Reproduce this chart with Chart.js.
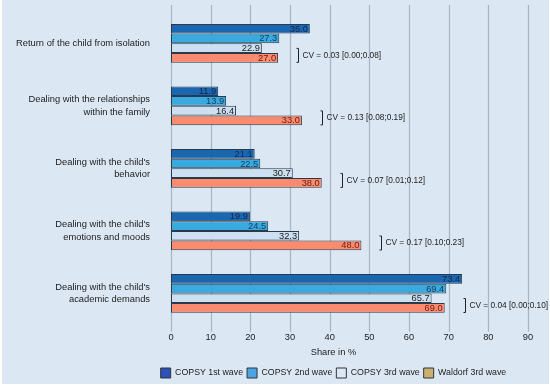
<!DOCTYPE html>
<html>
<head>
<meta charset="utf-8">
<script src="https://cdn.jsdelivr.net/npm/chart.js@4/dist/chart.umd.min.js"></script>
<style>
  html, body { margin: 0; padding: 0; background: #ffffff; }
  #wrap { width: 550px; height: 387px; position: relative; }
</style>
</head>
<body>
<div id="wrap"><canvas id="c" width="550" height="387"></canvas></div>
<script>
const categories = [
  "Return of the child from isolation",
  ["Dealing with the relationships", "within the family"],
  ["Dealing with the child's", "behavior"],
  ["Dealing with the child's", "emotions and moods"],
  ["Dealing with the child's", "academic demands"]
];
const seriesNames = ["COPSY 1st wave", "COPSY 2nd wave", "COPSY 3rd wave", "Waldorf 3rd wave"];
const copsy1 = [35.0, 11.9, 21.1, 19.9, 73.4];
const copsy2 = [27.3, 13.9, 22.5, 24.5, 69.4];
const copsy3 = [22.9, 16.4, 30.7, 32.3, 65.7];
const waldorf = [27.0, 33.0, 38.0, 48.0, 69.0];
const cvLabels = [
  "CV = 0.03 [0.00;0.08]",
  "CV = 0.13 [0.08;0.19]",
  "CV = 0.07 [0.01;0.12]",
  "CV = 0.17 [0.10;0.23]",
  "CV = 0.04 [0.00;0.10]"
];
const xTicks = [0, 10, 20, 30, 40, 50, 60, 70, 80, 90];
const xTitle = "Share in %";

const FONT = "'Liberation Sans', Arial, sans-serif";
const barColors = ["#1a67b1", "#38aadf", "#cde0f2", "#fb8b6e"];
const legendColors = ["#2b52b8", "#4ba4e3", "#dbe7f5", "#c9b26f"];
const labelColors = ["#14284f", "#163a5c", "#222222", "#6b1a0e"];
const seriesData = [copsy1, copsy2, copsy3, waldorf];

const bgPlugin = {
  id: "bg",
  beforeDraw(chart) {
    const ctx = chart.ctx;
    ctx.save();
    ctx.fillStyle = "#ffffff";
    ctx.fillRect(0, 0, chart.width, chart.height);
    ctx.fillStyle = "#dbe8f4";
    ctx.fillRect(2, 0, chart.width - 3, chart.height - 3);
    ctx.restore();
  }
};

const legendShift = {
  id: "legendShift",
  afterLayout(chart) {
    const lg = chart.legend;
    if (!lg) return;
    const a = chart.chartArea;
    const target = a.left + (a.right - a.left) * 0.455;
    const cur = (lg.left + lg.right) / 2;
    const d = target - cur;
    lg.left += d;
    lg.right += d;
    lg.top -= 4;
    lg.bottom += 6;
  }
};

const gridPlugin = {
  id: "vgrid",
  beforeDatasetsDraw(chart) {
    const ctx = chart.ctx;
    const xs = chart.scales.x;
    const a = chart.chartArea;
    ctx.save();
    ctx.strokeStyle = "rgba(150,165,182,0.75)";
    ctx.lineWidth = 1.2;
    xs.ticks.forEach(t => {
      const px = Math.round(xs.getPixelForValue(t.value)) + 0.5;
      ctx.beginPath();
      ctx.moveTo(px, a.top - 7);
      ctx.lineTo(px, a.bottom + 7);
      ctx.stroke();
    });
    ctx.restore();
  }
};

const labelPlugin = {
  id: "vlabels",
  afterDatasetsDraw(chart) {
    const ctx = chart.ctx;
    const xs = chart.scales.x;
    ctx.save();
    ctx.font = "9.3px " + FONT;
    ctx.textAlign = "right";
    ctx.textBaseline = "middle";
    chart.data.datasets.forEach((ds, di) => {
      const meta = chart.getDatasetMeta(di);
      ctx.fillStyle = labelColors[di];
      meta.data.forEach((el, i) => {
        ctx.fillText(ds.data[i].toFixed(1), el.x - 2, el.y + 0.5);
      });
    });
    const m3 = chart.getDatasetMeta(2);
    const m4 = chart.getDatasetMeta(3);
    ctx.textAlign = "left";
    ctx.fillStyle = "#222222";
    ctx.strokeStyle = "#222222";
    ctx.lineWidth = 1;
    cvLabels.forEach((txt, i) => {
      const bx = Math.round(xs.getPixelForValue(waldorf[i] + 5)) + 0.5;
      const cy = (m3.data[i].y + 3 * m4.data[i].y) / 4;
      ctx.beginPath();
      ctx.moveTo(bx - 2, cy - 7);
      ctx.lineTo(bx, cy - 7);
      ctx.lineTo(bx, cy + 7);
      ctx.lineTo(bx - 2, cy + 7);
      ctx.stroke();
      ctx.font = "8.3px " + FONT;
      ctx.fillText(txt, bx + 4, cy);
    });
    ctx.restore();
  }
};

new Chart(document.getElementById("c"), {
  type: "bar",
  data: {
    labels: categories,
    datasets: seriesNames.map((n, i) => ({
      label: n,
      data: seriesData[i],
      backgroundColor: barColors[i],
      borderColor: "#2b3a4a",
      borderWidth: 1,
      borderSkipped: false,
      categoryPercentage: 0.62,
      barPercentage: 1.0
    }))
  },
  options: {
    indexAxis: "y",
    responsive: false,
    animation: false,
    devicePixelRatio: 1,
    layout: { padding: { left: 0, right: 22, top: 12, bottom: -5 } },
    scales: {
      x: {
        min: 0, max: 90,
        afterBuildTicks(scale) { scale.ticks = xTicks.map(v => ({ value: v })); },
        afterFit(scale) { scale.paddingLeft = 0; scale.paddingRight = 0; },
        grid: { display: false, drawTicks: false },
        border: { display: false },
        ticks: { font: { family: FONT, size: 9.3 }, color: "#222222", padding: 7 }
      },
      y: {
        afterFit(scale) { scale.width = 171; scale.paddingTop = 0; scale.paddingBottom = 0; },
        grid: { display: false, drawTicks: false },
        border: { display: false },
        ticks: {
          autoSkip: false,
          font: { family: FONT, size: 9.35, lineHeight: 1.35 },
          color: "#222222",
          padding: 21
        }
      }
    },
    plugins: {
      tooltip: { enabled: false },
      legend: {
        position: "bottom",
        title: {
          display: true,
          text: xTitle,
          color: "#222222",
          font: { family: FONT, size: 9.3 },
          padding: { top: 2, bottom: 5 }
        },
        labels: {
          boxWidth: 10,
          boxHeight: 10,
          padding: 4,
          color: "#222222",
          font: { family: FONT, size: 8.8 },
          generateLabels(chart) {
            return chart.data.datasets.map((ds, i) => ({
              text: ds.label,
              fillStyle: legendColors[i],
              strokeStyle: "#333333",
              lineWidth: 1,
              hidden: false,
              datasetIndex: i,
              fontColor: "#222222"
            }));
          }
        }
      }
    }
  },
  plugins: [bgPlugin, legendShift, gridPlugin, labelPlugin]
});
</script>
</body>
</html>
